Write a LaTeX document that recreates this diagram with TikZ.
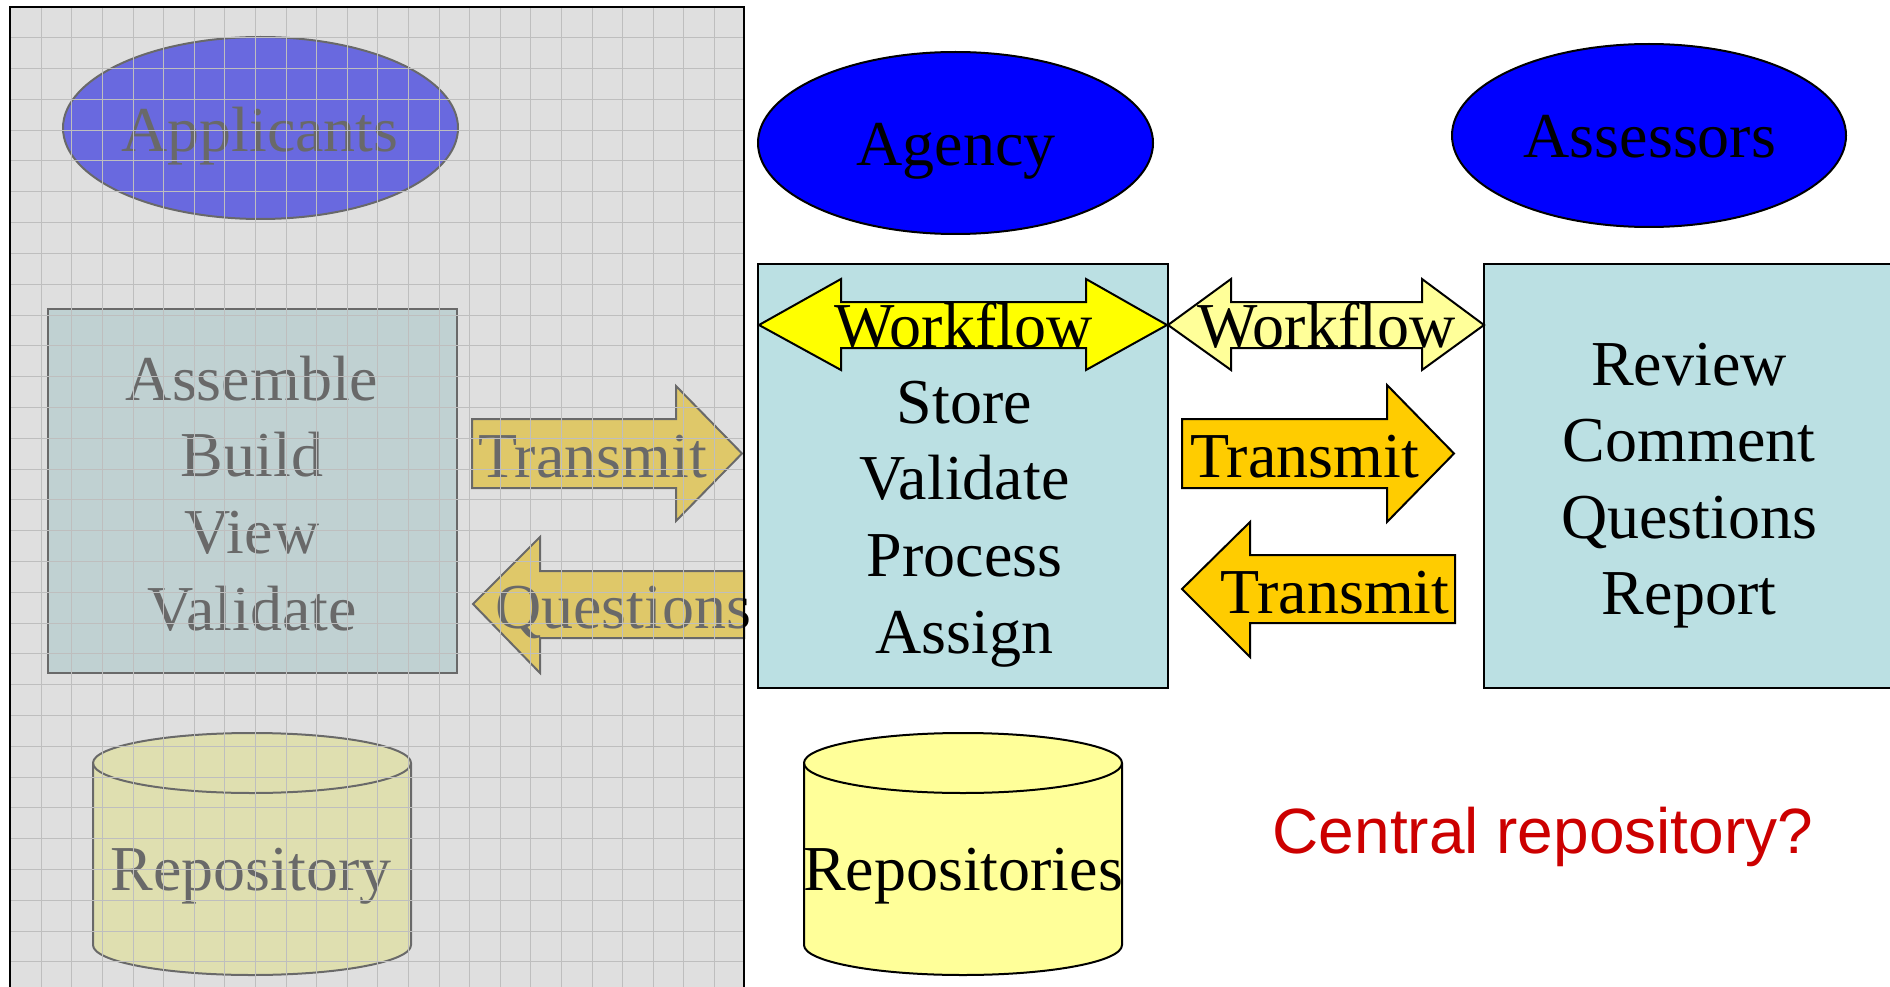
\documentclass[tikz,border=0pt]{standalone}
\usepackage{fontspec}
\setmainfont{Liberation Serif}
\newfontfamily\arialf{Liberation Sans}
\usetikzlibrary{shapes.geometric}
\definecolor{boxc}{HTML}{BBE0E3}
\definecolor{goldc}{HTML}{FFCC00}
\definecolor{lyel}{HTML}{FFFF99}
\definecolor{yelc}{HTML}{FFFF00}
\definecolor{bluec}{HTML}{0000FF}
\definecolor{cred}{HTML}{CC0000}
\definecolor{overc}{RGB}{197,197,197}
\definecolor{gridc}{RGB}{190,190,190}
\tikzset{
  big/.style={font=\fontsize{64}{77}\selectfont, inner sep=0pt, anchor=base},
  outl/.style={draw=black, line width=2pt},
  oval/.style={ellipse, outl, fill=bluec, inner sep=0pt},
  panelbox/.style={rectangle, outl, fill=boxc, inner sep=0pt},
  cyl/.style={outl, fill=lyel},
  blockarrow/.style={outl, line join=miter},
  gridline/.style={draw=gridc, line width=1pt}
}
\begin{document}
\begin{tikzpicture}[x=1pt,y=-1pt]
\useasboundingbox (0,0) rectangle (1890,987);
\fill[white] (0,0) rectangle (1890,987);

% ---------------- left group (applicants) ----------------
\node[oval, minimum width=395pt, minimum height=182pt] (appl) at (260.5,128) {};
\node[big] (applt) at (260,152) {Applicants};

\node[panelbox, minimum width=409pt, minimum height=364pt] (asmbox) at (252.5,491) {};
\node[big] (asm1) at (252,400) {Assemble};
\node[big] (asm2) at (252,476) {Build};
\node[big] (asm3) at (252,553) {View};
\node[big] (asm4) at (252,630) {Validate};

\draw[blockarrow, fill=goldc] (472,419) -- (676,419) -- (676,386) -- (742,453.5) -- (676,521) -- (676,488) -- (472,488) -- cycle;
\node[big] (trl) at (592.5,477) {Transmit};
\draw[blockarrow, fill=goldc] (473,604) -- (540,537) -- (540,571) -- (744,571) -- (744,638) -- (540,638) -- (540,673) -- cycle;
\node[big] (ques) at (623,628) {Questions};

\draw[cyl] (93,763) -- (93,945) arc[start angle=180, end angle=0, x radius=159, y radius=30] -- (411,763) arc[start angle=360, end angle=180, x radius=159, y radius=30] -- cycle;
\draw[outl] (93,763) arc[start angle=180, end angle=0, x radius=159, y radius=30];
\node[big] (repo) at (251,890) {Repository};

% overlay of the greyed-out panel
\fill[overc, fill opacity=0.537] (10,7) rectangle (744,990);
\begin{scope}
  \clip (10,7) rectangle (744,990);
  \foreach \i in {1,...,24} { \draw[gridline] (10.6+30.6*\i,7) -- (10.6+30.6*\i,990); }
  \foreach \j in {1,...,32} { \draw[gridline] (10,7+30.8*\j) -- (744,7+30.8*\j); }
\end{scope}
\draw[line width=2.5pt] (10,995) -- (10,7) -- (744,7) -- (744,995);

% ---------------- agency ----------------
\node[oval, minimum width=395pt, minimum height=182pt] (agency) at (955.5,143) {};
\node[big] (agencyt) at (956,166) {Agency};

\node[panelbox, minimum width=410pt, minimum height=424pt] (agbox) at (963,476) {};
\draw[blockarrow, fill=yelc] (759,325) -- (841,279) -- (841,302) -- (1086,302) -- (1086,279) -- (1167,325) -- (1086,370) -- (1086,348) -- (841,348) -- (841,370) -- cycle;
\node[big] (wf1) at (963.5,347) {Workflow};
\node[big] (ag1) at (964.5,423) {Store};
\node[big] (ag2) at (964.5,499) {Validate};
\node[big] (ag3) at (964.5,576) {Process};
\node[big] (ag4) at (964.5,653) {Assign};

\draw[cyl] (804,763) -- (804,945) arc[start angle=180, end angle=0, x radius=159, y radius=30] -- (1122,763) arc[start angle=360, end angle=180, x radius=159, y radius=30] -- cycle;
\draw[outl] (804,763) arc[start angle=180, end angle=0, x radius=159, y radius=30];
\node[big] (repos) at (963,890) {Repositories};

% ---------------- assessors ----------------
\node[oval, minimum width=394pt, minimum height=183pt] (assess) at (1649,135.5) {};
\node[big] (assesst) at (1650,158) {Assessors};

\node[panelbox, minimum width=420pt, minimum height=424pt] (asbox) at (1694,476) {};
\node[big] (as1) at (1689,385) {Review};
\node[big] (as2) at (1689,461) {Comment};
\node[big] (as3) at (1689,538) {Questions};
\node[big] (as4) at (1689,614) {Report};

\draw[blockarrow, fill=lyel] (1168,325) -- (1231,279) -- (1231,302) -- (1422,302) -- (1422,279) -- (1484,325) -- (1422,370) -- (1422,348) -- (1231,348) -- (1231,370) -- cycle;
\node[big] (wf2) at (1326.5,347) {Workflow};

\draw[blockarrow, fill=goldc] (1182,419) -- (1387,419) -- (1387,385) -- (1454,453.5) -- (1387,522) -- (1387,488) -- (1182,488) -- cycle;
\node[big] (trr1) at (1304.5,477) {Transmit};
\draw[blockarrow, fill=goldc] (1182,589) -- (1250,522) -- (1250,555) -- (1455,555) -- (1455,623) -- (1250,623) -- (1250,657) -- cycle;
\node[big] (trr2) at (1335,613) {Transmit};

\node[big, font=\arialf\fontsize{64}{77}\selectfont, text=cred] (central) at (1543,853) {Central repository?};
\end{tikzpicture}
\end{document}
